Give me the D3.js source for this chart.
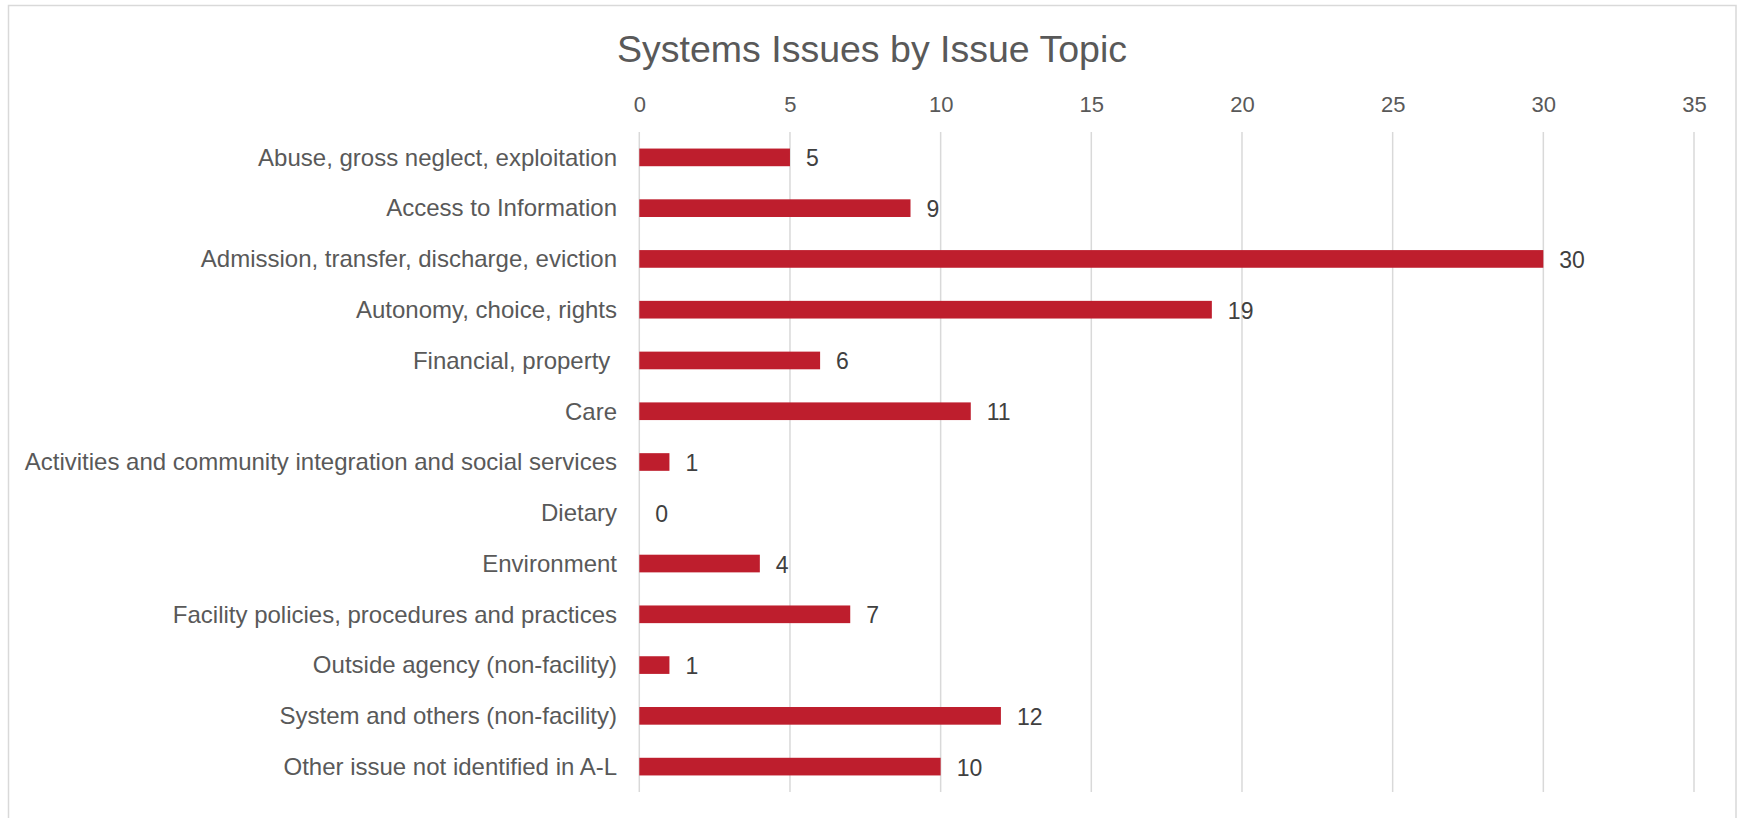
<!DOCTYPE html>
<html>
<head>
<meta charset="utf-8">
<script src="https://cdn.jsdelivr.net/npm/d3@7"></script>
<style>
  html, body { margin: 0; padding: 0; background: #ffffff; }
  svg { display: block; }
  text { font-family: "Liberation Sans", Arial, sans-serif; }
</style>
</head>
<body>
<svg id="chart" width="1741" height="818"></svg>
<script>
// Issue topics, top to bottom
const categories = [
  "Abuse, gross neglect, exploitation",
  "Access to Information",
  "Admission, transfer, discharge, eviction",
  "Autonomy, choice, rights",
  "Financial, property ",
  "Care",
  "Activities and community integration and social services",
  "Dietary",
  "Environment",
  "Facility policies, procedures and practices",
  "Outside agency (non-facility)",
  "System and others (non-facility)",
  "Other issue not identified in A-L"
];

// Number of systems issues per topic
const counts = [5, 9, 30, 19, 6, 11, 1, 0, 4, 7, 1, 12, 10];

// Axis ticks
const tickValues = [0, 5, 10, 15, 20, 25, 30, 35];

const title = "Systems Issues by Issue Topic";

const W = 1741, H = 818;
const margin = { left: 639.3, right: W - 1694, top: 132, bottom: H - 792 };

const svg = d3.select("#chart");

// Chart frame
svg.append("rect")
  .attr("x", 8.5).attr("y", 5.5)
  .attr("width", 1736 - 8.5).attr("height", 900)
  .attr("fill", "#ffffff")
  .attr("stroke", "#d9d9d9")
  .attr("stroke-width", 1.5);

const x = d3.scaleLinear()
  .domain([0, 35])
  .range([margin.left, W - margin.right]);

const y = d3.scaleBand()
  .domain(categories)
  .range([margin.top, H - margin.bottom])
  .paddingInner(0.652)
  .paddingOuter(0.326);

// Title
svg.append("text")
  .attr("x", 872)
  .attr("y", 62)
  .attr("text-anchor", "middle")
  .attr("font-size", 37.5)
  .attr("fill", "#595959")
  .text(title);

// Vertical gridlines
svg.append("g")
  .selectAll("line")
  .data(tickValues)
  .join("line")
  .attr("x1", d => x(d)).attr("x2", d => x(d))
  .attr("y1", margin.top).attr("y2", H - margin.bottom)
  .attr("stroke", "#d9d9d9")
  .attr("stroke-width", 1.5);

// Top axis tick labels
const axis = d3.axisTop(x).tickValues(tickValues).tickSize(0).tickPadding(0);
const gAxis = svg.append("g")
  .attr("transform", `translate(0, 112)`)
  .call(axis);
gAxis.select(".domain").remove();
gAxis.selectAll("text")
  .attr("font-size", 22)
  .attr("fill", "#595959")
  .attr("dy", 0)
  .style("font-family", '"Liberation Sans", Arial, sans-serif');

// Bars
svg.append("g")
  .selectAll("rect")
  .data(categories)
  .join("rect")
  .attr("x", x(0))
  .attr("y", d => y(d))
  .attr("width", (d, i) => x(counts[i]) - x(0))
  .attr("height", y.bandwidth())
  .attr("fill", "#be1e2d");

// Category labels
svg.append("g")
  .selectAll("text")
  .data(categories)
  .join("text")
  .attr("xml:space", "preserve")
  .style("white-space", "pre")
  .attr("x", 617)
  .attr("y", d => y(d) + y.bandwidth() / 2 + 8.3)
  .attr("text-anchor", "end")
  .attr("font-size", 24)
  .attr("fill", "#595959")
  .text(d => d);

// Value labels
svg.append("g")
  .selectAll("text")
  .data(categories)
  .join("text")
  .attr("x", (d, i) => x(counts[i]) + 16)
  .attr("y", d => y(d) + y.bandwidth() / 2 + 9)
  .attr("font-size", 23)
  .attr("fill", "#404040")
  .text((d, i) => counts[i]);
</script>
</body>
</html>
